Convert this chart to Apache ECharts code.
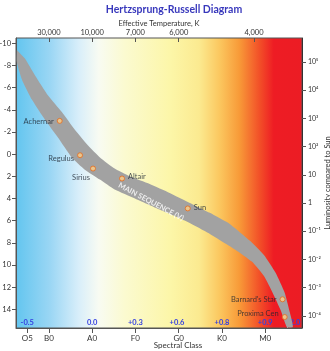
<!DOCTYPE html>
<html><head><meta charset="utf-8">
<script src="https://cdn.jsdelivr.net/npm/echarts@6/dist/echarts.min.js"></script>
<style>html,body{margin:0;padding:0;background:#fff}#c{width:330px;height:351px}</style>
</head><body><div id="c"></div>
<script>
// ---- data ----
const spectralClasses = ['O5','B0','A0','F0','G0','K0','M0'];
const spectralPos = [0.5,1,2,3,4,5,6];
const tempLabels = ['30,000','10,000','7,000','6,000','4,000'];
const tempPos = [1,2,3,4,5.74];
const colorIndexLabels = ['-0.5','0.0','+0.3','+0.6','+0.8','+0.9','+2.0'];
const colorIndexPos = [0.5,2,3,3.96,5,6,6.64];
const magTicks = [-10,-8,-6,-4,-2,0,2,4,6,8,10,12,14];
const lumExponents = [-4,-3,-2,-1,0,1,2,3,4,5];
const starNames = ['Achernar','Regulus','Sirius','Altair','Sun',"Barnard's Star",'Proxima Cen'];
const starClass = [1.25,1.72,2.02,2.69,4.21,6.40,6.45];
const starMag = [-3.0,0.1,1.3,2.2,4.9,13.1,14.7];
// main sequence band edges [spectral position, absolute magnitude]
const bandUpper = [[0.26,-9.4],[0.45,-8.6],[0.68,-7.1],[0.98,-5.3],[1.30,-3.8],[1.60,-2.2],[1.90,-0.8],[2.18,0.3],[2.52,1.3],[2.87,2.0],[3.33,2.7],[3.79,3.5],[4.26,4.4],[4.72,5.3],[5.18,6.3],[5.64,7.8],[5.97,9.1],[6.24,10.7],[6.45,12.5],[6.57,14.3],[6.64,15.6]];
const bandLower = [[0.26,-9.4],[0.26,-8.3],[0.38,-6.7],[0.61,-4.9],[0.91,-3.1],[1.21,-1.5],[1.53,0.3],[1.83,1.4],[2.18,2.3],[2.52,3.2],[2.99,4.0],[3.56,5.0],[4.14,6.0],[4.72,7.2],[5.30,8.6],[5.69,9.7],[5.97,11.0],[6.17,12.5],[6.36,14.1],[6.50,15.6]];
const seqLabel = 'MAIN SEQUENCE (V)';
const seqLabelPos = [3.36,4.3];

const supMap = {'-':'⁻','0':'⁰','1':'¹','2':'²','3':'³','4':'⁴','5':'⁵','6':'⁶','7':'⁷','8':'⁸','9':'⁹'};
function lumLabel(e){ if(e===0) return '1'; if(e===1) return '10'; return '10'+String(e).split('').map(c=>supMap[c]).join(''); }

const FONT = 'Lato, "Open Sans", sans-serif';
const chart = echarts.init(document.getElementById('c'));
const labelPos = ['left','left','bottom','right','right','left','left'];
const labelOffset = [[0,1],[0,3],[-12,-1],[0,-2],[0,-1],[0,0],[0,-3]];
chart.setOption({
  animation:false,
  textStyle:{fontFamily:FONT},
  title:{text:'Hertzsprung-Russell Diagram',left:169,top:-1,textAlign:'center',
    textStyle:{fontFamily:FONT,fontSize:10.5,fontWeight:'bold',color:'#3838bc'}},
  grid:{left:16,right:28,top:38,bottom:23,outerBoundsMode:'none',containLabel:false,
    show:true,borderColor:'#555',borderWidth:1,
    backgroundColor:{type:'linear',x:0,y:0,x2:1,y2:0,colorStops:[
      {offset:0,color:'#62c5ef'},{offset:0.12,color:'#9ad6f4'},{offset:0.22,color:'#d8eefa'},
      {offset:0.29,color:'#f8fbf2'},{offset:0.38,color:'#fbfad0'},{offset:0.54,color:'#fcf6a8'},
      {offset:0.64,color:'#fbea90'},{offset:0.71,color:'#fbc860'},{offset:0.78,color:'#f89a38'},
      {offset:0.85,color:'#f25028'},{offset:0.9,color:'#ee1c24'},{offset:1,color:'#ec1c24'}]}},
  xAxis:[
    {type:'value',position:'bottom',min:0.24,max:6.85,splitLine:{show:false},
     axisLine:{show:true,onZero:false,lineStyle:{color:'#555'}},
     axisTick:{show:true,length:5,customValues:spectralPos,lineStyle:{color:'#555'}},
     axisLabel:{customValues:spectralPos,fontSize:8,color:'#333',margin:6,
       formatter:v=>spectralClasses[spectralPos.indexOf(v)]},
     name:'Spectral Class',nameLocation:'middle',nameGap:13,nameMoveOverlap:false,
     nameTextStyle:{fontSize:8,color:'#333',padding:[0,0,0,38]}},
    {type:'value',position:'top',min:0.24,max:6.85,splitLine:{show:false},
     axisLine:{show:false,onZero:false},
     axisTick:{show:true,inside:true,length:4,customValues:tempPos,lineStyle:{color:'#555'}},
     axisLabel:{customValues:tempPos,fontSize:7.5,color:'#333',margin:1,
       formatter:v=>tempLabels[tempPos.indexOf(v)]},
     name:'Effective Temperature, K',nameLocation:'middle',nameGap:10,nameMoveOverlap:false,
     nameTextStyle:{fontSize:7.5,color:'#333'}},
    {type:'value',position:'bottom',min:0.24,max:6.85,splitLine:{show:false},
     axisLine:{show:false,onZero:false},axisTick:{show:false},
     axisLabel:{customValues:colorIndexPos,inside:true,fontSize:7.5,fontWeight:'bold',color:'#3440e0',margin:1,
       formatter:v=>colorIndexLabels[colorIndexPos.indexOf(v)]}}
  ],
  yAxis:[
    {type:'value',inverse:true,min:-10.48,max:15.69,position:'left',splitLine:{show:false},
     axisLine:{show:true,onZero:false,lineStyle:{color:'#555'}},
     axisTick:{show:true,length:4,customValues:magTicks,lineStyle:{color:'#555'}},
     axisLabel:{customValues:magTicks,fontSize:7.5,color:'#333',margin:5}},
    {type:'value',min:-4.43,max:5.85,position:'right',splitLine:{show:false},
     axisLine:{show:true,onZero:false,lineStyle:{color:'#333'}},
     axisTick:{show:true,length:4,customValues:lumExponents,lineStyle:{color:'#555'}},
     axisLabel:{customValues:lumExponents,fontSize:7,color:'#333',margin:6,formatter:v=>lumLabel(v)},
     name:'Luminosity compared to Sun',nameLocation:'middle',nameGap:22,nameRotate:90,nameMoveOverlap:false,
     nameTextStyle:{fontSize:7.5,color:'#333'}}
  ],
  series:[
    {type:'custom',xAxisIndex:0,yAxisIndex:0,data:[[0,0]],silent:true,z:2,
     renderItem:(params,api)=>{
       const pts = bandUpper.map(p=>api.coord(p)).concat(bandLower.slice().reverse().map(p=>api.coord(p)));
       return {type:'polygon',shape:{points:pts,smooth:0.15},style:{fill:'#a2a2a2'}};
     }},
    {type:'scatter',xAxisIndex:0,yAxisIndex:0,z:3,symbolSize:0,silent:true,
     data:[{value:seqLabelPos,label:{show:true,formatter:seqLabel,position:'inside',rotate:-28,
       color:'#fff',fontSize:7.5,fontWeight:'bold'}}]},
    {type:'scatter',xAxisIndex:0,yAxisIndex:0,z:4,symbol:'circle',symbolSize:5,
     itemStyle:{color:'#fbd08a',borderColor:'#e46a1e',borderWidth:1},
     data:starNames.map((n,i)=>({value:[starClass[i],starMag[i]],name:n,
       label:{show:true,formatter:n,position:labelPos[i],offset:labelOffset[i],distance:3,fontSize:7.5,color:'#1c2430'}}))}
  ]
});
</script></body></html>
